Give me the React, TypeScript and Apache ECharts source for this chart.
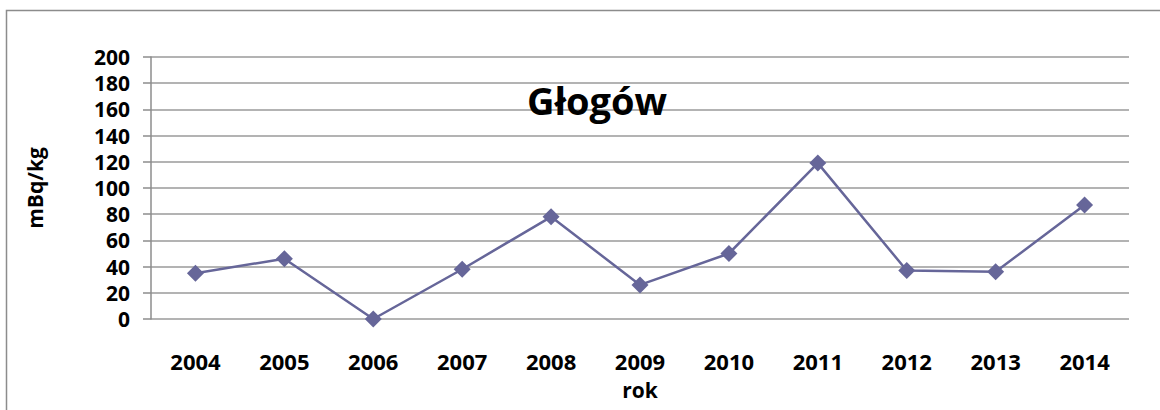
import React, { useEffect, useRef } from "react";
import * as echarts from "echarts";

const years = ["2004", "2005", "2006", "2007", "2008", "2009", "2010", "2011", "2012", "2013", "2014"];
const values = [35, 46, 0, 38, 78, 26, 50, 119, 37, 36, 87];
const titleText = "Głogów";
const yAxisName = "mBq/kg";
const xAxisName = "rok";

const FONT = "'Open Sans', Lato, sans-serif";

export default function App() {
  const ref = useRef<HTMLDivElement>(null);
  useEffect(() => {
    if (!ref.current) return;
    const chart = echarts.init(ref.current, null, { renderer: "svg" });
    chart.setOption({
      animation: false,
      backgroundColor: "#ffffff",
      title: {
        text: titleText,
        left: 597,
        top: 81,
        textAlign: "center",
        padding: 0,
        textStyle: { fontFamily: FONT, fontWeight: "bold", fontSize: 38, color: "#000" },
      },
      graphic: [
        {
          type: "rect",
          shape: { x: 6.5, y: 10.5, width: 1300, height: 600 },
          style: { fill: "none", stroke: "#8c8c8c", lineWidth: 1.5 },
          silent: true,
        },
      ],
      grid: { left: 151, right: 31, top: 57, bottom: 91, containLabel: false },
      xAxis: {
        type: "category",
        data: years,
        boundaryGap: true,
        name: xAxisName,
        nameLocation: "middle",
        nameGap: 60,
        nameTextStyle: { fontFamily: FONT, fontWeight: "bold", fontSize: 21, color: "#000" },
        axisLine: { show: false },
        axisTick: { show: false },
        axisLabel: { margin: 31, fontFamily: FONT, fontWeight: "bold", fontSize: 22, color: "#000" },
        splitLine: { show: false },
      },
      yAxis: {
        type: "value",
        min: 0,
        max: 200,
        interval: 20,
        name: yAxisName,
        nameLocation: "middle",
        nameRotate: 90,
        nameGap: 106,
        nameTextStyle: { fontFamily: FONT, fontWeight: "bold", fontSize: 21, color: "#000" },
        axisLine: { show: true, lineStyle: { color: "#8c8c8c", width: 1.5 } },
        axisTick: { show: true, length: 8, lineStyle: { color: "#8c8c8c", width: 1.5 } },
        axisLabel: {
          margin: 21,
          fontFamily: FONT,
          fontWeight: "bold",
          fontSize: 21,
          lineHeight: 21,
          color: "#000",
        },
        splitLine: { show: true, lineStyle: { color: "#9a9a9a", width: 1.5 } },
      },
      series: [
        {
          type: "line",
          data: values,
          symbol: "diamond",
          symbolSize: 17,
          lineStyle: { color: "#666699", width: 2.5 },
          itemStyle: { color: "#666699" },
        },
      ],
    });
    return () => chart.dispose();
  }, []);
  return (
    <div
      ref={ref}
      style={{ position: "absolute", left: 0, top: 0, width: 1160, height: 410, background: "#fff" }}
    />
  );
}
